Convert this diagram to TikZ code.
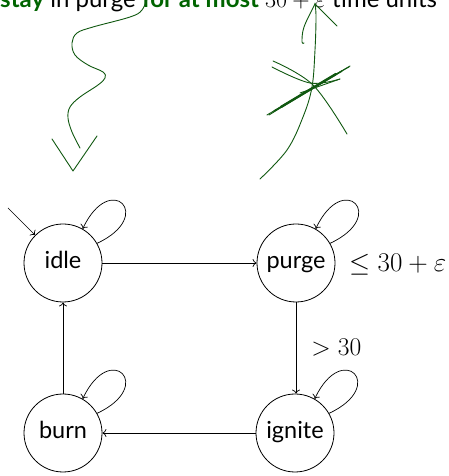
\documentclass[tikz,border=0pt]{standalone}
\usepackage{fix-cm}
\usepackage{fontspec}
\setmainfont{Lato}
\usetikzlibrary{arrows.meta}
\definecolor{dgreen}{RGB}{0,100,0}
\definecolor{ink}{RGB}{16,88,16}
\begin{document}
\begin{tikzpicture}[x=1pt,y=1pt,
  state/.style={circle,draw,line width=0.8pt,minimum size=78pt,inner sep=0pt,
                text height=16.5pt,text depth=5pt,
                font=\fontsize{23.5}{27}\selectfont},
  trans/.style={-{To[length=4pt,width=8pt]},line width=0.7pt},
  lbl/.style={inner sep=0pt,font=\fontsize{25.5}{29}\selectfont},
  scribble/.style={ink,line width=0.9pt,line cap=round,line join=round}]
\useasboundingbox (0,0) rectangle (448,476);
\clip (0,0) rectangle (448,476);

% heading (runs past the top edge)
\node[inner sep=0pt,font=\fontsize{24}{28}\selectfont,anchor=base west] (title) at (0,468)
  {\textcolor{dgreen}{\bfseries stay} in purge \textcolor{dgreen}{\bfseries for at most} $30+\varepsilon$ time units};

% states
\node[state] (idle)   at (63,213)  {idle};
\node[state] (purge)  at (296,213) {purge};
\node[state] (burn)   at (63,43)   {burn};
\node[state] (ignite) at (295,43)  {ignite};

% initial arrow
\coordinate (init) at (8,268);
\draw[trans] (init) -- (idle.135);

% transitions
\draw[trans] (idle) -- (purge);
\draw[trans] (purge) -- node[lbl,right=15pt] (gt) {$>30$} (purge |- ignite.north);
\draw[trans] (ignite) -- (burn);
\draw[trans] (burn) -- (idle);

% self loops
\foreach \s in {idle,purge,burn,ignite}
  \draw[trans] (\s.30) .. controls +(25:65) and +(65:65) .. (\s.60);

% invariant
\node[lbl,anchor=west,font=\fontsize{27}{31}\selectfont] (inv) at (349,211) {$\le 30+\varepsilon$};

% hand-drawn wavy arrow
\draw[scribble] plot[smooth,tension=0.6] coordinates {(148,480) (142,466) (130,459) (93,449) (77,443) (72,433) (75,421)
  (88,411) (103,404) (105,398) (98,391) (80,379) (70,369) (68,358) (72,344) (80,328)};
\draw[scribble] (52,337) -- (73,305) -- (97,340);

% hand-drawn upward arrow
\draw[scribble] plot[smooth,tension=0.6] coordinates {(260,297) (287,326) (303,359) (312,389) (315,426) (316,459) (315,473)};
\draw[scribble] plot[smooth,tension=0.6] coordinates {(315,472) (304,449) (302,434) (304,433)};
\draw[scribble] (315,472) -- (337,450);

% hand-drawn cross-out
\draw[scribble] (267,361) -- (350,410);
\draw[scribble] (269,361) .. controls (300,380) and (320,393) .. (349,409);
\draw[scribble,line width=2.4pt] (281,369) -- (336,402);
\draw[scribble,line width=1.5pt] (274,365) -- (342,405);
\draw[scribble] (300,383) -- (340,397);
\draw[scribble] plot[smooth,tension=0.6] coordinates {(273,415) (313,391) (347,342)};
\draw[scribble] plot[smooth,tension=0.6] coordinates {(272,409) (310,393) (340,397)};
\end{tikzpicture}
\end{document}
